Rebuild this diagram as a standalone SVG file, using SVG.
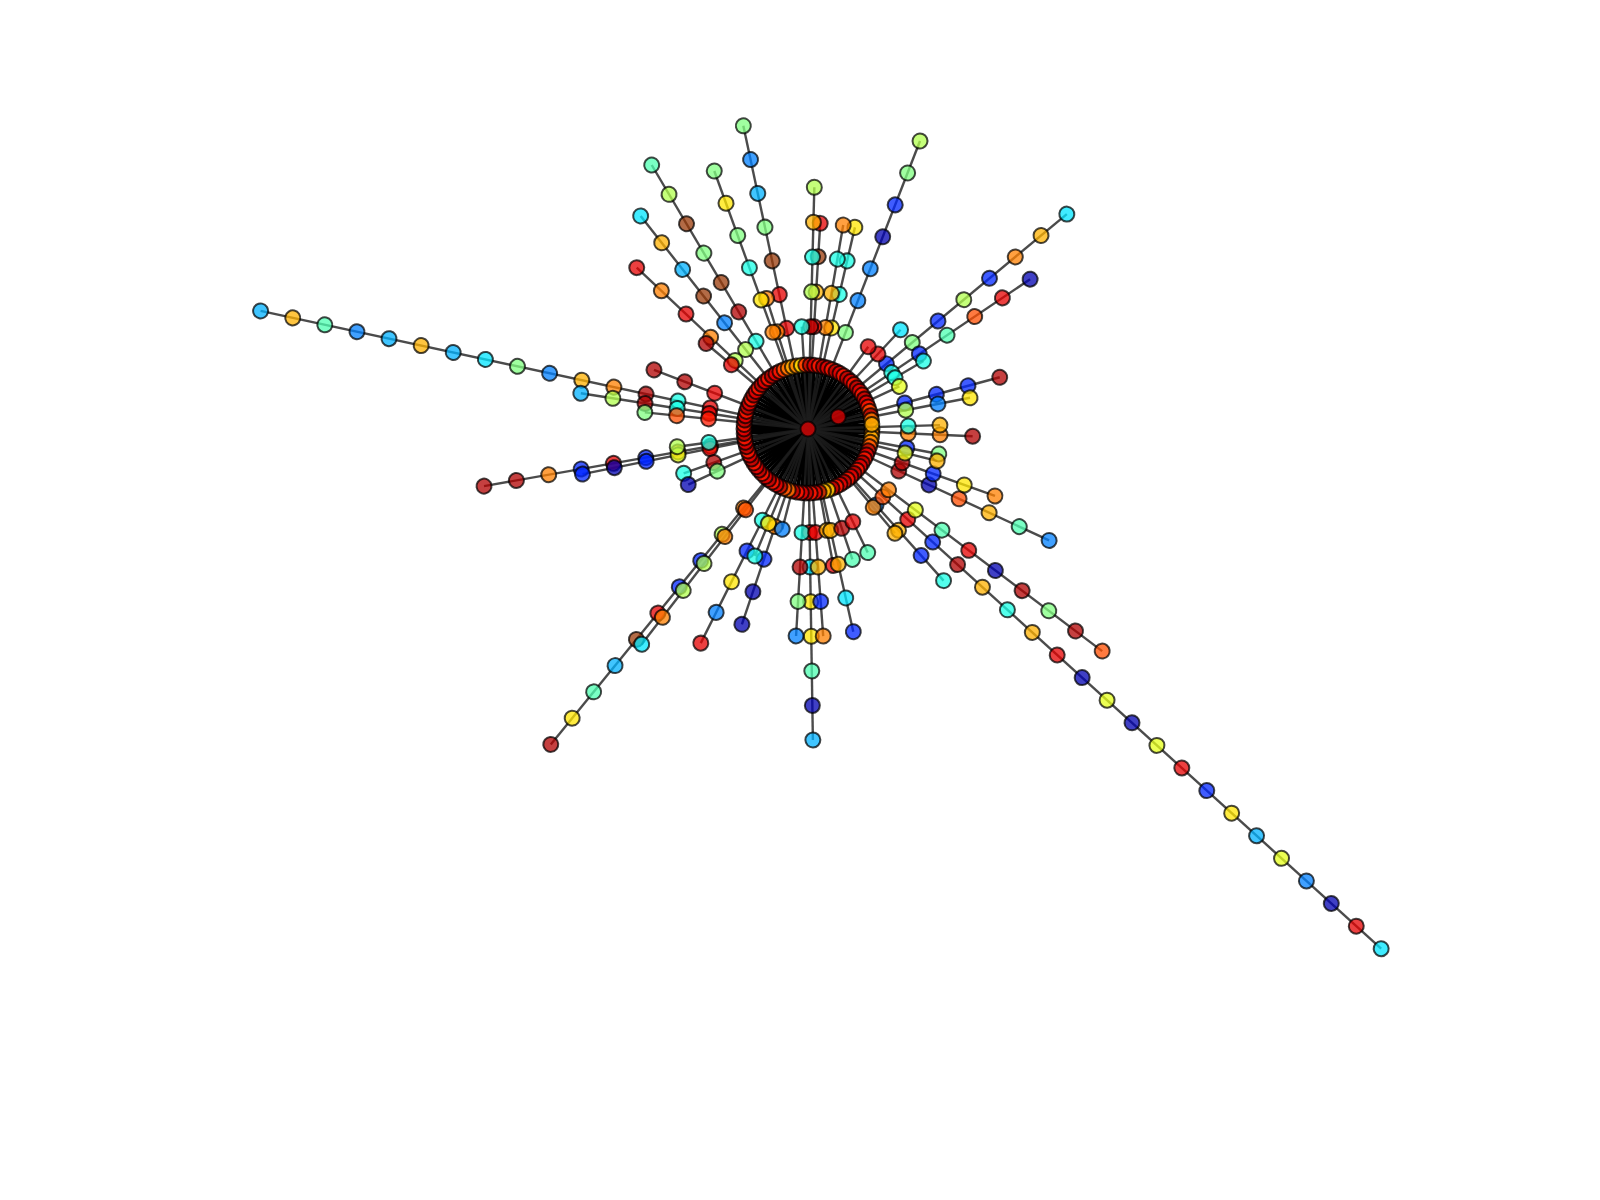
<svg xmlns="http://www.w3.org/2000/svg" width="1600" height="1200" viewBox="0 0 1600 1200">
<style>
.e line{stroke:#1e1e1e;stroke-width:2.4;stroke-opacity:.8}
.e .s line{stroke:#000;stroke-width:3.8;stroke-opacity:1}
circle{stroke:#000;stroke-width:2;stroke-opacity:.72;fill-opacity:.75}
.k1{fill:#0000b2}.k2{fill:#0026ff}.k3{fill:#0080ff}.k4{fill:#00b2ff}.k5{fill:#00e6ff}.k6{fill:#1affe6}.k7{fill:#4dffb2}.k8{fill:#80ff80}.k9{fill:#b2ff4d}.k10{fill:#e6ff1a}.k11{fill:#ffe600}.k12{fill:#ffb200}.k13{fill:#ff8000}.k14{fill:#ff4d00}.k15{fill:#ff1a00}.k16{fill:#e60000}.k17{fill:#b20000}.k19{fill:#9a3a08}
</style>
<rect width="1600" height="1200" fill="#fff"/>
<g transform="translate(808 429)">
<g id="edges" class="e">
<g class="s">
<line x2="64" transform="rotate(0)"/><line x2="64" transform="rotate(4)"/><line x2="64" transform="rotate(8)"/><line x2="64" transform="rotate(12)"/><line x2="64" transform="rotate(16)"/><line x2="64" transform="rotate(20)"/><line x2="64" transform="rotate(24)"/><line x2="64" transform="rotate(28)"/><line x2="64" transform="rotate(32)"/><line x2="64" transform="rotate(36)"/><line x2="64" transform="rotate(40)"/><line x2="64" transform="rotate(44)"/><line x2="64" transform="rotate(48)"/><line x2="64" transform="rotate(52)"/><line x2="64" transform="rotate(56)"/><line x2="64" transform="rotate(60)"/><line x2="64" transform="rotate(64)"/><line x2="64" transform="rotate(68)"/><line x2="64" transform="rotate(72)"/><line x2="64" transform="rotate(76)"/><line x2="64" transform="rotate(80)"/><line x2="64" transform="rotate(84)"/><line x2="64" transform="rotate(88)"/><line x2="64" transform="rotate(92)"/><line x2="64" transform="rotate(96)"/><line x2="64" transform="rotate(100)"/><line x2="64" transform="rotate(104)"/><line x2="64" transform="rotate(108)"/><line x2="64" transform="rotate(112)"/><line x2="64" transform="rotate(116)"/><line x2="64" transform="rotate(120)"/><line x2="64" transform="rotate(124)"/><line x2="64" transform="rotate(128)"/><line x2="64" transform="rotate(132)"/><line x2="64" transform="rotate(136)"/><line x2="64" transform="rotate(140)"/><line x2="64" transform="rotate(144)"/><line x2="64" transform="rotate(148)"/><line x2="64" transform="rotate(152)"/><line x2="64" transform="rotate(156)"/><line x2="64" transform="rotate(160)"/><line x2="64" transform="rotate(164)"/><line x2="64" transform="rotate(168)"/><line x2="64" transform="rotate(172)"/><line x2="64" transform="rotate(176)"/><line x2="64" transform="rotate(180)"/><line x2="64" transform="rotate(184)"/><line x2="64" transform="rotate(188)"/><line x2="64" transform="rotate(192)"/><line x2="64" transform="rotate(196)"/><line x2="64" transform="rotate(200)"/><line x2="64" transform="rotate(204)"/><line x2="64" transform="rotate(208)"/><line x2="64" transform="rotate(212)"/><line x2="64" transform="rotate(216)"/><line x2="64" transform="rotate(220)"/><line x2="64" transform="rotate(224)"/><line x2="64" transform="rotate(228)"/><line x2="64" transform="rotate(232)"/><line x2="64" transform="rotate(236)"/><line x2="64" transform="rotate(240)"/><line x2="64" transform="rotate(244)"/><line x2="64" transform="rotate(248)"/><line x2="64" transform="rotate(252)"/><line x2="64" transform="rotate(256)"/><line x2="64" transform="rotate(260)"/><line x2="64" transform="rotate(264)"/><line x2="64" transform="rotate(268)"/><line x2="64" transform="rotate(272)"/><line x2="64" transform="rotate(276)"/><line x2="64" transform="rotate(280)"/><line x2="64" transform="rotate(284)"/><line x2="64" transform="rotate(288)"/><line x2="64" transform="rotate(292)"/><line x2="64" transform="rotate(296)"/><line x2="64" transform="rotate(300)"/><line x2="64" transform="rotate(304)"/><line x2="64" transform="rotate(308)"/><line x2="64" transform="rotate(312)"/><line x2="64" transform="rotate(316)"/><line x2="64" transform="rotate(320)"/><line x2="64" transform="rotate(324)"/><line x2="64" transform="rotate(328)"/><line x2="64" transform="rotate(332)"/><line x2="64" transform="rotate(336)"/><line x2="64" transform="rotate(340)"/><line x2="64" transform="rotate(344)"/><line x2="64" transform="rotate(348)"/><line x2="64" transform="rotate(352)"/><line x2="64" transform="rotate(356)"/>
</g>
<line x2="560" transform="rotate(-167.83)"/>
<line x2="230" transform="rotate(-171.07)"/>
<line x2="164" transform="rotate(-174.2)"/>
<line x2="165" transform="rotate(-159)"/>
<line x2="329" transform="rotate(170)"/>
<line x2="230" transform="rotate(168.7)"/>
<line x2="132" transform="rotate(172.3)"/>
<line x2="132" transform="rotate(160.4)"/>
<line x2="132" transform="rotate(155.1)"/>
<line x2="407" transform="rotate(129.2)"/>
<line x2="272" transform="rotate(127.7)"/>
<line x2="239.5" transform="rotate(116.6)"/>
<line x2="206.2" transform="rotate(108.7)"/>
<line x2="137.6" transform="rotate(112.7)"/>
<line x2="103.5" transform="rotate(104.4)"/>
<line x2="311" transform="rotate(89.1)"/>
<line x2="207.3" transform="rotate(93.3)"/>
<line x2="207.6" transform="rotate(85.8)"/>
<line x2="138.8" transform="rotate(79.5)"/>
<line x2="207.7" transform="rotate(77.4)"/>
<line x2="137.8" transform="rotate(71.2)"/>
<line x2="137.2" transform="rotate(64.2)"/>
<line x2="203.4" transform="rotate(48.2)"/>
<line x2="135.8" transform="rotate(50.2)"/>
<line x2="773.7" transform="rotate(42.2)"/>
<line x2="368.6" transform="rotate(37.05)"/>
<line x2="265.6" transform="rotate(24.8)"/>
<line x2="198.6" transform="rotate(19.7)"/>
<line x2="133.2" transform="rotate(10.8)"/>
<line x2="133" transform="rotate(13.9)"/>
<line x2="164.8" transform="rotate(2.5)"/>
<line x2="132" transform="rotate(-1.7)"/>
<line x2="198.6" transform="rotate(-15.1)"/>
<line x2="165" transform="rotate(-10.9)"/>
<line x2="336.4" transform="rotate(-39.7)"/>
<line x2="267.9" transform="rotate(-34)"/>
<line x2="134" transform="rotate(-30.5)"/>
<line x2="100.8" transform="rotate(-25)"/>
<line x2="135.7" transform="rotate(-47)"/>
<line x2="102" transform="rotate(-53.8)"/>
<line x2="309" transform="rotate(-68.75)"/>
<line x2="207" transform="rotate(-76.9)"/>
<line x2="207" transform="rotate(-80.2)"/>
<line x2="241.8" transform="rotate(-88.5)"/>
<line x2="206" transform="rotate(-86.6)"/>
<line x2="102.5" transform="rotate(-93.5)"/>
<line x2="310" transform="rotate(-102.04)"/>
<line x2="137" transform="rotate(-107.6)"/>
<line x2="274.5" transform="rotate(-109.96)"/>
<line x2="306.8" transform="rotate(-120.63)"/>
<line x2="270.9" transform="rotate(-128.15)"/>
<line x2="235.3" transform="rotate(-136.7)"/>
<line x2="133" transform="rotate(-140)"/>
</g>
<g id="hub"><circle class="k16" r="7.5"/></g>
<g id="hub2"><circle class="k16" cx="30.3" cy="-12.3" r="7.5"/></g>
<g id="ring">
<g id="r0" transform="rotate(0)"><circle class="k12" cx="64" r="7.5"/></g>
<g id="r1" transform="rotate(4)"><circle class="k13" cx="64" r="7.5"/></g>
<g id="r2" transform="rotate(8)"><circle class="k12" cx="64" r="7.5"/></g>
<g id="r3" transform="rotate(12)"><circle class="k13" cx="64" r="7.5"/></g>
<g id="r4" transform="rotate(16)"><circle class="k14" cx="64" r="7.5"/></g>
<g id="r5" transform="rotate(20)"><circle class="k17" cx="64" r="7.5"/></g>
<g id="r6" transform="rotate(24)"><circle class="k16" cx="64" r="7.5"/></g>
<g id="r7" transform="rotate(28)"><circle class="k15" cx="64" r="7.5"/></g>
<g id="r8" transform="rotate(32)"><circle class="k17" cx="64" r="7.5"/></g>
<g id="r9" transform="rotate(36)"><circle class="k16" cx="64" r="7.5"/></g>
<g id="r10" transform="rotate(40)"><circle class="k15" cx="64" r="7.5"/></g>
<g id="r11" transform="rotate(44)"><circle class="k17" cx="64" r="7.5"/></g>
<g id="r12" transform="rotate(48)"><circle class="k16" cx="64" r="7.5"/></g>
<g id="r13" transform="rotate(52)"><circle class="k15" cx="64" r="7.5"/></g>
<g id="r14" transform="rotate(56)"><circle class="k17" cx="64" r="7.5"/></g>
<g id="r15" transform="rotate(60)"><circle class="k16" cx="64" r="7.5"/></g>
<g id="r16" transform="rotate(64)"><circle class="k15" cx="64" r="7.5"/></g>
<g id="r17" transform="rotate(68)"><circle class="k17" cx="64" r="7.5"/></g>
<g id="r18" transform="rotate(72)"><circle class="k11" cx="64" r="7.5"/></g>
<g id="r19" transform="rotate(76)"><circle class="k12" cx="64" r="7.5"/></g>
<g id="r20" transform="rotate(80)"><circle class="k17" cx="64" r="7.5"/></g>
<g id="r21" transform="rotate(84)"><circle class="k16" cx="64" r="7.5"/></g>
<g id="r22" transform="rotate(88)"><circle class="k15" cx="64" r="7.5"/></g>
<g id="r23" transform="rotate(92)"><circle class="k17" cx="64" r="7.5"/></g>
<g id="r24" transform="rotate(96)"><circle class="k16" cx="64" r="7.5"/></g>
<g id="r25" transform="rotate(100)"><circle class="k15" cx="64" r="7.5"/></g>
<g id="r26" transform="rotate(104)"><circle class="k17" cx="64" r="7.5"/></g>
<g id="r27" transform="rotate(108)"><circle class="k13" cx="64" r="7.5"/></g>
<g id="r28" transform="rotate(112)"><circle class="k14" cx="64" r="7.5"/></g>
<g id="r29" transform="rotate(116)"><circle class="k17" cx="64" r="7.5"/></g>
<g id="r30" transform="rotate(120)"><circle class="k16" cx="64" r="7.5"/></g>
<g id="r31" transform="rotate(124)"><circle class="k15" cx="64" r="7.5"/></g>
<g id="r32" transform="rotate(128)"><circle class="k17" cx="64" r="7.5"/></g>
<g id="r33" transform="rotate(132)"><circle class="k16" cx="64" r="7.5"/></g>
<g id="r34" transform="rotate(136)"><circle class="k15" cx="64" r="7.5"/></g>
<g id="r35" transform="rotate(140)"><circle class="k17" cx="64" r="7.5"/></g>
<g id="r36" transform="rotate(144)"><circle class="k16" cx="64" r="7.5"/></g>
<g id="r37" transform="rotate(148)"><circle class="k15" cx="64" r="7.5"/></g>
<g id="r38" transform="rotate(152)"><circle class="k17" cx="64" r="7.5"/></g>
<g id="r39" transform="rotate(156)"><circle class="k16" cx="64" r="7.5"/></g>
<g id="r40" transform="rotate(160)"><circle class="k15" cx="64" r="7.5"/></g>
<g id="r41" transform="rotate(164)"><circle class="k17" cx="64" r="7.5"/></g>
<g id="r42" transform="rotate(168)"><circle class="k16" cx="64" r="7.5"/></g>
<g id="r43" transform="rotate(172)"><circle class="k15" cx="64" r="7.5"/></g>
<g id="r44" transform="rotate(176)"><circle class="k17" cx="64" r="7.5"/></g>
<g id="r45" transform="rotate(180)"><circle class="k16" cx="64" r="7.5"/></g>
<g id="r46" transform="rotate(184)"><circle class="k15" cx="64" r="7.5"/></g>
<g id="r47" transform="rotate(188)"><circle class="k17" cx="64" r="7.5"/></g>
<g id="r48" transform="rotate(192)"><circle class="k16" cx="64" r="7.5"/></g>
<g id="r49" transform="rotate(196)"><circle class="k15" cx="64" r="7.5"/></g>
<g id="r50" transform="rotate(200)"><circle class="k17" cx="64" r="7.5"/></g>
<g id="r51" transform="rotate(204)"><circle class="k16" cx="64" r="7.5"/></g>
<g id="r52" transform="rotate(208)"><circle class="k15" cx="64" r="7.5"/></g>
<g id="r53" transform="rotate(212)"><circle class="k17" cx="64" r="7.5"/></g>
<g id="r54" transform="rotate(216)"><circle class="k16" cx="64" r="7.5"/></g>
<g id="r55" transform="rotate(220)"><circle class="k15" cx="64" r="7.5"/></g>
<g id="r56" transform="rotate(224)"><circle class="k17" cx="64" r="7.5"/></g>
<g id="r57" transform="rotate(228)"><circle class="k16" cx="64" r="7.5"/></g>
<g id="r58" transform="rotate(232)"><circle class="k15" cx="64" r="7.5"/></g>
<g id="r59" transform="rotate(236)"><circle class="k17" cx="64" r="7.5"/></g>
<g id="r60" transform="rotate(240)"><circle class="k16" cx="64" r="7.5"/></g>
<g id="r61" transform="rotate(244)"><circle class="k15" cx="64" r="7.5"/></g>
<g id="r62" transform="rotate(248)"><circle class="k14" cx="64" r="7.5"/></g>
<g id="r63" transform="rotate(252)"><circle class="k13" cx="64" r="7.5"/></g>
<g id="r64" transform="rotate(256)"><circle class="k12" cx="64" r="7.5"/></g>
<g id="r65" transform="rotate(260)"><circle class="k13" cx="64" r="7.5"/></g>
<g id="r66" transform="rotate(264)"><circle class="k11" cx="64" r="7.5"/></g>
<g id="r67" transform="rotate(268)"><circle class="k15" cx="64" r="7.5"/></g>
<g id="r68" transform="rotate(272)"><circle class="k17" cx="64" r="7.5"/></g>
<g id="r69" transform="rotate(276)"><circle class="k16" cx="64" r="7.5"/></g>
<g id="r70" transform="rotate(280)"><circle class="k15" cx="64" r="7.5"/></g>
<g id="r71" transform="rotate(284)"><circle class="k17" cx="64" r="7.5"/></g>
<g id="r72" transform="rotate(288)"><circle class="k16" cx="64" r="7.5"/></g>
<g id="r73" transform="rotate(292)"><circle class="k15" cx="64" r="7.5"/></g>
<g id="r74" transform="rotate(296)"><circle class="k17" cx="64" r="7.5"/></g>
<g id="r75" transform="rotate(300)"><circle class="k16" cx="64" r="7.5"/></g>
<g id="r76" transform="rotate(304)"><circle class="k15" cx="64" r="7.5"/></g>
<g id="r77" transform="rotate(308)"><circle class="k17" cx="64" r="7.5"/></g>
<g id="r78" transform="rotate(312)"><circle class="k16" cx="64" r="7.5"/></g>
<g id="r79" transform="rotate(316)"><circle class="k15" cx="64" r="7.5"/></g>
<g id="r80" transform="rotate(320)"><circle class="k17" cx="64" r="7.5"/></g>
<g id="r81" transform="rotate(324)"><circle class="k16" cx="64" r="7.5"/></g>
<g id="r82" transform="rotate(328)"><circle class="k15" cx="64" r="7.5"/></g>
<g id="r83" transform="rotate(332)"><circle class="k17" cx="64" r="7.5"/></g>
<g id="r84" transform="rotate(336)"><circle class="k16" cx="64" r="7.5"/></g>
<g id="r85" transform="rotate(340)"><circle class="k15" cx="64" r="7.5"/></g>
<g id="r86" transform="rotate(344)"><circle class="k14" cx="64" r="7.5"/></g>
<g id="r87" transform="rotate(348)"><circle class="k17" cx="64" r="7.5"/></g>
<g id="r88" transform="rotate(352)"><circle class="k13" cx="64" r="7.5"/></g>
<g id="r89" transform="rotate(356)"><circle class="k12" cx="64" r="7.5"/></g>
</g>
<g id="arms">
<g transform="rotate(-167.83)">
<g id="a1-1"><circle class="k16" cx="100" r="7.5"/></g><g id="a1-2"><circle class="k6" cx="132.9" r="7.5"/></g><g id="a1-3"><circle class="k17" cx="165.7" r="7.5"/></g><g id="a1-4"><circle class="k13" cx="198.6" r="7.5"/></g><g id="a1-5"><circle class="k12" cx="231.4" r="7.5"/></g><g id="a1-6"><circle class="k3" cx="264.3" r="7.5"/></g><g id="a1-7"><circle class="k8" cx="297.2" r="7.5"/></g><g id="a1-8"><circle class="k5" cx="330" r="7.5"/></g><g id="a1-9"><circle class="k4" cx="362.9" r="7.5"/></g><g id="a1-10"><circle class="k12" cx="395.7" r="7.5"/></g><g id="a1-11"><circle class="k4" cx="428.6" r="7.5"/></g><g id="a1-12"><circle class="k3" cx="461.4" r="7.5"/></g><g id="a1-13"><circle class="k7" cx="494.3" r="7.5"/></g><g id="a1-14"><circle class="k12" cx="527.1" r="7.5"/></g><g id="a1-15"><circle class="k4" cx="560" r="7.5"/></g>
</g>
<g transform="rotate(-171.07)">
<g id="a2-1"><circle class="k16" cx="100" r="7.5"/></g><g id="a2-2"><circle class="k6" cx="132.5" r="7.5"/></g><g id="a2-3"><circle class="k17" cx="165" r="7.5"/></g><g id="a2-4"><circle class="k9" cx="197.5" r="7.5"/></g><g id="a2-5"><circle class="k4" cx="230" r="7.5"/></g>
</g>
<g transform="rotate(-174.2)">
<g id="a3-1"><circle class="k15" cx="100" r="7.5"/></g><g id="a3-2"><circle class="k14" cx="132" r="7.5"/></g><g id="a3-3"><circle class="k8" cx="164" r="7.5"/></g>
</g>
<g transform="rotate(-159)">
<g id="a4-1"><circle class="k16" cx="100" r="7.5"/></g><g id="a4-2"><circle class="k17" cx="132" r="7.5"/></g><g id="a4-3"><circle class="k17" cx="165" r="7.5"/></g>
</g>
<g transform="rotate(170)">
<g id="a5-1"><circle class="k14" cx="99" r="7.5"/></g><g id="a5-2"><circle class="k13" cx="131.9" r="7.5"/></g><g id="a5-3"><circle class="k2" cx="164.7" r="7.5"/></g><g id="a5-4"><circle class="k16" cx="197.6" r="7.5"/></g><g id="a5-5"><circle class="k2" cx="230.4" r="7.5"/></g><g id="a5-6"><circle class="k13" cx="263.3" r="7.5"/></g><g id="a5-7"><circle class="k17" cx="296.1" r="7.5"/></g><g id="a5-8"><circle class="k17" cx="329" r="7.5"/></g>
</g>
<g transform="rotate(168.7)">
<g id="a6-1"><circle class="k16" cx="100" r="7.5"/></g><g id="a6-2"><circle class="k10" cx="132.5" r="7.5"/></g><g id="a6-3"><circle class="k2" cx="165" r="7.5"/></g><g id="a6-4"><circle class="k1" cx="197.5" r="7.5"/></g><g id="a6-5"><circle class="k2" cx="230" r="7.5"/></g>
</g>
<g transform="rotate(172.3)">
<g id="a7-1"><circle class="k6" cx="100" r="7.5"/></g><g id="a7-2"><circle class="k9" cx="132" r="7.5"/></g>
</g>
<g transform="rotate(160.4)">
<g id="a8-1"><circle class="k17" cx="100" r="7.5"/></g><g id="a8-2"><circle class="k6" cx="132" r="7.5"/></g>
</g>
<g transform="rotate(155.1)">
<g id="a9-1"><circle class="k8" cx="100" r="7.5"/></g><g id="a9-2"><circle class="k1" cx="132" r="7.5"/></g>
</g>
<g transform="rotate(129.2)">
<g id="a10-1"><circle class="k13" cx="102" r="7.5"/></g><g id="a10-2"><circle class="k9" cx="135.9" r="7.5"/></g><g id="a10-3"><circle class="k2" cx="169.8" r="7.5"/></g><g id="a10-4"><circle class="k2" cx="203.7" r="7.5"/></g><g id="a10-5"><circle class="k16" cx="237.6" r="7.5"/></g><g id="a10-6"><circle class="k19" cx="271.5" r="7.5"/></g><g id="a10-7"><circle class="k4" cx="305.3" r="7.5"/></g><g id="a10-8"><circle class="k7" cx="339.2" r="7.5"/></g><g id="a10-9"><circle class="k11" cx="373.1" r="7.5"/></g><g id="a10-10"><circle class="k17" cx="407" r="7.5"/></g>
</g>
<g transform="rotate(127.7)">
<g id="a11-1"><circle class="k14" cx="102" r="7.5"/></g><g id="a11-2"><circle class="k13" cx="136" r="7.5"/></g><g id="a11-3"><circle class="k9" cx="170" r="7.5"/></g><g id="a11-4"><circle class="k9" cx="204" r="7.5"/></g><g id="a11-5"><circle class="k13" cx="238" r="7.5"/></g><g id="a11-6"><circle class="k5" cx="272" r="7.5"/></g>
</g>
<g transform="rotate(116.6)">
<g id="a12-1"><circle class="k6" cx="102" r="7.5"/></g><g id="a12-2"><circle class="k2" cx="136.4" r="7.5"/></g><g id="a12-3"><circle class="k11" cx="170.8" r="7.5"/></g><g id="a12-4"><circle class="k3" cx="205.1" r="7.5"/></g><g id="a12-5"><circle class="k16" cx="239.5" r="7.5"/></g>
</g>
<g transform="rotate(108.7)">
<g id="a13-1"><circle class="k13" cx="103" r="7.5"/></g><g id="a13-2"><circle class="k2" cx="137.4" r="7.5"/></g><g id="a13-3"><circle class="k1" cx="171.8" r="7.5"/></g><g id="a13-4"><circle class="k1" cx="206.2" r="7.5"/></g>
</g>
<g transform="rotate(112.7)">
<g id="a14-1"><circle class="k11" cx="102.3" r="7.5"/></g><g id="a14-2"><circle class="k6" cx="137.6" r="7.5"/></g>
</g>
<g transform="rotate(104.4)">
<g id="a15-1"><circle class="k3" cx="103.5" r="7.5"/></g>
</g>
<g transform="rotate(89.1)">
<g id="a16-1"><circle class="k16" cx="103.5" r="7.5"/></g><g id="a16-2"><circle class="k5" cx="138.1" r="7.5"/></g><g id="a16-3"><circle class="k11" cx="172.8" r="7.5"/></g><g id="a16-4"><circle class="k11" cx="207.3" r="7.5"/></g><g id="a16-5"><circle class="k7" cx="242" r="7.5"/></g><g id="a16-6"><circle class="k1" cx="276.5" r="7.5"/></g><g id="a16-7"><circle class="k4" cx="311" r="7.5"/></g>
</g>
<g transform="rotate(93.3)">
<g id="a17-1"><circle class="k6" cx="103.8" r="7.5"/></g><g id="a17-2"><circle class="k17" cx="138.3" r="7.5"/></g><g id="a17-3"><circle class="k8" cx="172.8" r="7.5"/></g><g id="a17-4"><circle class="k3" cx="207.3" r="7.5"/></g>
</g>
<g transform="rotate(85.8)">
<g id="a18-1"><circle class="k16" cx="103.8" r="7.5"/></g><g id="a18-2"><circle class="k12" cx="138.4" r="7.5"/></g><g id="a18-3"><circle class="k2" cx="173" r="7.5"/></g><g id="a18-4"><circle class="k13" cx="207.6" r="7.5"/></g>
</g>
<g transform="rotate(79.5)">
<g id="a19-1"><circle class="k12" cx="103" r="7.5"/></g><g id="a19-2"><circle class="k16" cx="138.8" r="7.5"/></g>
</g>
<g transform="rotate(77.4)">
<g id="a20-1"><circle class="k12" cx="104" r="7.5"/></g><g id="a20-2"><circle class="k12" cx="138.6" r="7.5"/></g><g id="a20-3"><circle class="k5" cx="173.1" r="7.5"/></g><g id="a20-4"><circle class="k2" cx="207.7" r="7.5"/></g>
</g>
<g transform="rotate(71.2)">
<g id="a21-1"><circle class="k17" cx="104.9" r="7.5"/></g><g id="a21-2"><circle class="k7" cx="137.8" r="7.5"/></g>
</g>
<g transform="rotate(64.2)">
<g id="a22-1"><circle class="k16" cx="103" r="7.5"/></g><g id="a22-2"><circle class="k7" cx="137.2" r="7.5"/></g>
</g>
<g transform="rotate(48.2)">
<g id="a23-1"><circle class="k3" cx="102" r="7.5"/></g><g id="a23-2"><circle class="k12" cx="135.8" r="7.5"/></g><g id="a23-3"><circle class="k2" cx="169.7" r="7.5"/></g><g id="a23-4"><circle class="k6" cx="203.4" r="7.5"/></g>
</g>
<g transform="rotate(50.2)">
<g id="a24-1"><circle class="k13" cx="102" r="7.5"/></g><g id="a24-2"><circle class="k12" cx="135.8" r="7.5"/></g>
</g>
<g transform="rotate(42.2)">
<g id="a25-1"><circle class="k14" cx="101" r="7.5"/></g><g id="a25-2"><circle class="k16" cx="134.6" r="7.5"/></g><g id="a25-3"><circle class="k2" cx="168.3" r="7.5"/></g><g id="a25-4"><circle class="k17" cx="201.9" r="7.5"/></g><g id="a25-5"><circle class="k12" cx="235.5" r="7.5"/></g><g id="a25-6"><circle class="k6" cx="269.2" r="7.5"/></g><g id="a25-7"><circle class="k12" cx="302.8" r="7.5"/></g><g id="a25-8"><circle class="k16" cx="336.4" r="7.5"/></g><g id="a25-9"><circle class="k1" cx="370.1" r="7.5"/></g><g id="a25-10"><circle class="k10" cx="403.7" r="7.5"/></g><g id="a25-11"><circle class="k1" cx="437.4" r="7.5"/></g><g id="a25-12"><circle class="k10" cx="471" r="7.5"/></g><g id="a25-13"><circle class="k16" cx="504.6" r="7.5"/></g><g id="a25-14"><circle class="k2" cx="538.3" r="7.5"/></g><g id="a25-15"><circle class="k11" cx="571.9" r="7.5"/></g><g id="a25-16"><circle class="k4" cx="605.5" r="7.5"/></g><g id="a25-17"><circle class="k10" cx="639.2" r="7.5"/></g><g id="a25-18"><circle class="k3" cx="672.8" r="7.5"/></g><g id="a25-19"><circle class="k1" cx="706.4" r="7.5"/></g><g id="a25-20"><circle class="k16" cx="740.1" r="7.5"/></g><g id="a25-21"><circle class="k5" cx="773.7" r="7.5"/></g>
</g>
<g transform="rotate(37.05)">
<g id="a26-1"><circle class="k13" cx="101" r="7.5"/></g><g id="a26-2"><circle class="k10" cx="134.5" r="7.5"/></g><g id="a26-3"><circle class="k7" cx="167.9" r="7.5"/></g><g id="a26-4"><circle class="k16" cx="201.4" r="7.5"/></g><g id="a26-5"><circle class="k1" cx="234.8" r="7.5"/></g><g id="a26-6"><circle class="k17" cx="268.3" r="7.5"/></g><g id="a26-7"><circle class="k8" cx="301.7" r="7.5"/></g><g id="a26-8"><circle class="k17" cx="335.2" r="7.5"/></g><g id="a26-9"><circle class="k14" cx="368.6" r="7.5"/></g>
</g>
<g transform="rotate(24.8)">
<g id="a27-1"><circle class="k17" cx="100" r="7.5"/></g><g id="a27-2"><circle class="k1" cx="133.2" r="7.5"/></g><g id="a27-3"><circle class="k14" cx="166.4" r="7.5"/></g><g id="a27-4"><circle class="k12" cx="199.5" r="7.5"/></g><g id="a27-5"><circle class="k7" cx="232.7" r="7.5"/></g><g id="a27-6"><circle class="k3" cx="265.6" r="7.5"/></g>
</g>
<g transform="rotate(19.7)">
<g id="a28-1"><circle class="k17" cx="100" r="7.5"/></g><g id="a28-2"><circle class="k2" cx="133" r="7.5"/></g><g id="a28-3"><circle class="k11" cx="166" r="7.5"/></g><g id="a28-4"><circle class="k13" cx="198.6" r="7.5"/></g>
</g>
<g transform="rotate(10.8)">
<g id="a29-1"><circle class="k2" cx="100.6" r="7.5"/></g><g id="a29-2"><circle class="k8" cx="133.2" r="7.5"/></g>
</g>
<g transform="rotate(13.9)">
<g id="a30-1"><circle class="k10" cx="100" r="7.5"/></g><g id="a30-2"><circle class="k12" cx="133" r="7.5"/></g>
</g>
<g transform="rotate(2.5)">
<g id="a31-1"><circle class="k13" cx="100.3" r="7.5"/></g><g id="a31-2"><circle class="k13" cx="132.2" r="7.5"/></g><g id="a31-3"><circle class="k17" cx="164.8" r="7.5"/></g>
</g>
<g transform="rotate(-1.7)">
<g id="a32-1"><circle class="k6" cx="100.3" r="7.5"/></g><g id="a32-2"><circle class="k12" cx="132" r="7.5"/></g>
</g>
<g transform="rotate(-15.1)">
<g id="a33-1"><circle class="k2" cx="100.1" r="7.5"/></g><g id="a33-2"><circle class="k2" cx="132.9" r="7.5"/></g><g id="a33-3"><circle class="k2" cx="165.7" r="7.5"/></g><g id="a33-4"><circle class="k17" cx="198.6" r="7.5"/></g>
</g>
<g transform="rotate(-10.9)">
<g id="a34-1"><circle class="k9" cx="99.5" r="7.5"/></g><g id="a34-2"><circle class="k3" cx="132.3" r="7.5"/></g><g id="a34-3"><circle class="k11" cx="165" r="7.5"/></g>
</g>
<g transform="rotate(-39.7)">
<g id="a35-1"><circle class="k2" cx="102" r="7.5"/></g><g id="a35-2"><circle class="k8" cx="135.5" r="7.5"/></g><g id="a35-3"><circle class="k2" cx="169" r="7.5"/></g><g id="a35-4"><circle class="k9" cx="202.5" r="7.5"/></g><g id="a35-5"><circle class="k2" cx="235.9" r="7.5"/></g><g id="a35-6"><circle class="k13" cx="269.4" r="7.5"/></g><g id="a35-7"><circle class="k12" cx="302.9" r="7.5"/></g><g id="a35-8"><circle class="k5" cx="336.4" r="7.5"/></g>
</g>
<g transform="rotate(-34)">
<g id="a36-1"><circle class="k6" cx="100.9" r="7.5"/></g><g id="a36-2"><circle class="k2" cx="134.3" r="7.5"/></g><g id="a36-3"><circle class="k7" cx="167.7" r="7.5"/></g><g id="a36-4"><circle class="k14" cx="201.1" r="7.5"/></g><g id="a36-5"><circle class="k16" cx="234.5" r="7.5"/></g><g id="a36-6"><circle class="k1" cx="267.9" r="7.5"/></g>
</g>
<g transform="rotate(-30.5)">
<g id="a37-1"><circle class="k6" cx="101" r="7.5"/></g><g id="a37-2"><circle class="k6" cx="134" r="7.5"/></g>
</g>
<g transform="rotate(-25)">
<g id="a38-1"><circle class="k10" cx="100.8" r="7.5"/></g>
</g>
<g transform="rotate(-47)">
<g id="a39-1"><circle class="k16" cx="102.6" r="7.5"/></g><g id="a39-2"><circle class="k5" cx="135.7" r="7.5"/></g>
</g>
<g transform="rotate(-53.8)">
<g id="a40-1"><circle class="k16" cx="102" r="7.5"/></g>
</g>
<g transform="rotate(-68.75)">
<g id="a41-1"><circle class="k8" cx="103.5" r="7.5"/></g><g id="a41-2"><circle class="k3" cx="137.75" r="7.5"/></g><g id="a41-3"><circle class="k3" cx="172" r="7.5"/></g><g id="a41-4"><circle class="k1" cx="206.25" r="7.5"/></g><g id="a41-5"><circle class="k2" cx="240.5" r="7.5"/></g><g id="a41-6"><circle class="k8" cx="274.75" r="7.5"/></g><g id="a41-7"><circle class="k9" cx="309" r="7.5"/></g>
</g>
<g transform="rotate(-76.9)">
<g id="a42-1"><circle class="k11" cx="103.8" r="7.5"/></g><g id="a42-2"><circle class="k6" cx="138.2" r="7.5"/></g><g id="a42-3"><circle class="k6" cx="172.6" r="7.5"/></g><g id="a42-4"><circle class="k11" cx="207" r="7.5"/></g>
</g>
<g transform="rotate(-80.2)">
<g id="a43-1"><circle class="k13" cx="103" r="7.5"/></g><g id="a43-2"><circle class="k12" cx="137.7" r="7.5"/></g><g id="a43-3"><circle class="k6" cx="172.4" r="7.5"/></g><g id="a43-4"><circle class="k13" cx="207" r="7.5"/></g>
</g>
<g transform="rotate(-86.6)">
<g id="a44-1"><circle class="k16" cx="102.5" r="7.5"/></g><g id="a44-2"><circle class="k12" cx="137.2" r="7.5"/></g><g id="a44-3"><circle class="k19" cx="172.6" r="7.5"/></g><g id="a44-4"><circle class="k16" cx="206" r="7.5"/></g>
</g>
<g transform="rotate(-88.5)">
<g id="a45-1"><circle class="k17" cx="102.3" r="7.5"/></g><g id="a45-2"><circle class="k9" cx="137.2" r="7.5"/></g><g id="a45-3"><circle class="k6" cx="172" r="7.5"/></g><g id="a45-4"><circle class="k12" cx="206.9" r="7.5"/></g><g id="a45-5"><circle class="k9" cx="241.8" r="7.5"/></g>
</g>
<g transform="rotate(-93.5)">
<g id="a46-1"><circle class="k6" cx="102.5" r="7.5"/></g>
</g>
<g transform="rotate(-102.04)">
<g id="a47-1"><circle class="k16" cx="102.9" r="7.5"/></g><g id="a47-2"><circle class="k16" cx="137.4" r="7.5"/></g><g id="a47-3"><circle class="k19" cx="171.9" r="7.5"/></g><g id="a47-4"><circle class="k8" cx="206.4" r="7.5"/></g><g id="a47-5"><circle class="k4" cx="240.9" r="7.5"/></g><g id="a47-6"><circle class="k3" cx="275.5" r="7.5"/></g><g id="a47-7"><circle class="k8" cx="310" r="7.5"/></g>
</g>
<g transform="rotate(-107.6)">
<g id="a48-1"><circle class="k13" cx="102" r="7.5"/></g><g id="a48-2"><circle class="k13" cx="137" r="7.5"/></g>
</g>
<g transform="rotate(-109.96)">
<g id="a49-1"><circle class="k13" cx="103" r="7.5"/></g><g id="a49-2"><circle class="k11" cx="137.3" r="7.5"/></g><g id="a49-3"><circle class="k6" cx="171.6" r="7.5"/></g><g id="a49-4"><circle class="k8" cx="205.9" r="7.5"/></g><g id="a49-5"><circle class="k11" cx="240.2" r="7.5"/></g><g id="a49-6"><circle class="k8" cx="274.5" r="7.5"/></g>
</g>
<g transform="rotate(-120.63)">
<g id="a50-1"><circle class="k6" cx="102" r="7.5"/></g><g id="a50-2"><circle class="k17" cx="136.1" r="7.5"/></g><g id="a50-3"><circle class="k19" cx="170.3" r="7.5"/></g><g id="a50-4"><circle class="k8" cx="204.4" r="7.5"/></g><g id="a50-5"><circle class="k19" cx="238.5" r="7.5"/></g><g id="a50-6"><circle class="k9" cx="272.7" r="7.5"/></g><g id="a50-7"><circle class="k7" cx="306.8" r="7.5"/></g>
</g>
<g transform="rotate(-128.15)">
<g id="a51-1"><circle class="k9" cx="101" r="7.5"/></g><g id="a51-2"><circle class="k3" cx="135" r="7.5"/></g><g id="a51-3"><circle class="k19" cx="169" r="7.5"/></g><g id="a51-4"><circle class="k4" cx="202.9" r="7.5"/></g><g id="a51-5"><circle class="k12" cx="236.8" r="7.5"/></g><g id="a51-6"><circle class="k5" cx="270.9" r="7.5"/></g>
</g>
<g transform="rotate(-136.7)">
<g id="a52-1"><circle class="k9" cx="100" r="7.5"/></g><g id="a52-2"><circle class="k13" cx="133.8" r="7.5"/></g><g id="a52-3"><circle class="k16" cx="167.6" r="7.5"/></g><g id="a52-4"><circle class="k13" cx="201.5" r="7.5"/></g><g id="a52-5"><circle class="k16" cx="235.3" r="7.5"/></g>
</g>
<g transform="rotate(-140)">
<g id="a53-1"><circle class="k16" cx="100" r="7.5"/></g><g id="a53-2"><circle class="k17" cx="133" r="7.5"/></g>
</g>
</g>
</g>
</svg>
